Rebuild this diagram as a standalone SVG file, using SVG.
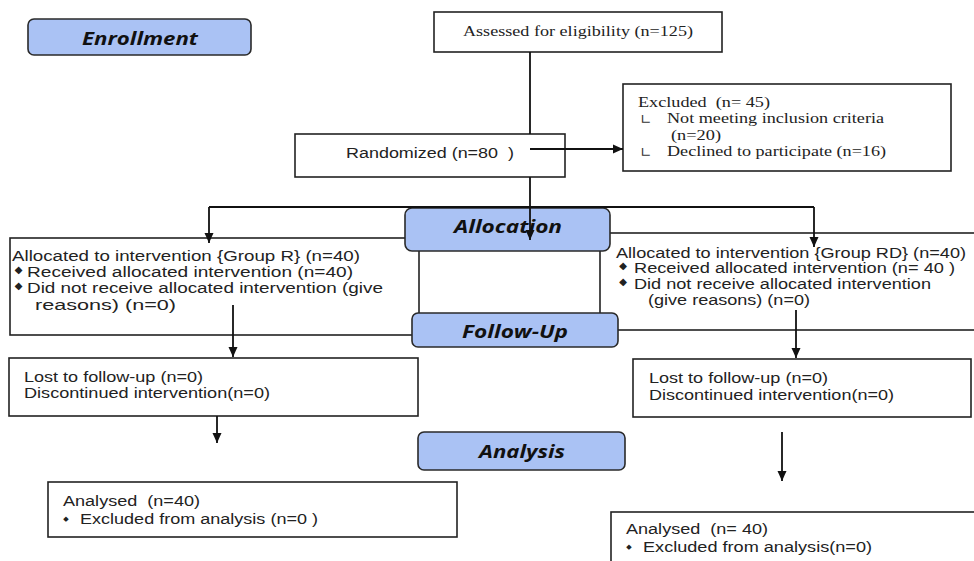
<svg xmlns="http://www.w3.org/2000/svg" width="974" height="561" viewBox="0 0 974 561">
<style>
.box{fill:#fff;stroke:#222;stroke-width:1.6}
.stage{fill:#aac2f4;stroke:#2a2a2a;stroke-width:1.6}
.hd{font-family:"Open Sans","Lato",sans-serif;font-weight:bold;font-style:italic;font-size:17px;fill:#111}
.ss{font-family:"Liberation Sans",Arial,sans-serif;font-size:14px;fill:#222;white-space:pre}
.sf{font-family:"Liberation Serif","Times New Roman",serif;font-size:14px;fill:#222;white-space:pre}
.dm{font-family:"DejaVu Sans",sans-serif;font-size:10px;fill:#222}
.ds{font-family:"DejaVu Sans",sans-serif;font-size:7px;fill:#222}
.lc{font-family:"DejaVu Sans",sans-serif;font-size:14px;fill:#333}
.cn{fill:none;stroke:#111;stroke-width:1.8}
</style>
<defs>
<marker id="ah" markerUnits="userSpaceOnUse" markerWidth="10" markerHeight="10" viewBox="0 0 10 10" refX="10" refY="5" orient="auto">
<path d="M0,0.5 L10,5 L0,9.5 Z" fill="#111"/>
</marker>
</defs>

<g id="group-r">
<rect class="box" x="10" y="238" width="409" height="97"/>
<text class="ss" x="12" y="261" textLength="348" lengthAdjust="spacingAndGlyphs">Allocated to intervention {Group R} (n=40)</text>
<text class="dm" x="18.5" y="273" text-anchor="middle">◆</text>
<text class="ss" x="27" y="277" textLength="326" lengthAdjust="spacingAndGlyphs">Received allocated intervention (n=40)</text>
<text class="dm" x="18.5" y="289" text-anchor="middle">◆</text>
<text class="ss" x="27" y="293" textLength="356" lengthAdjust="spacingAndGlyphs">Did not receive allocated intervention (give</text>
<text class="ss" x="35" y="310" textLength="141" lengthAdjust="spacingAndGlyphs">reasons) (n=0)</text>
</g>

<g id="group-rd">
<rect class="box" x="600" y="233" width="380" height="97"/>
<text class="ss" x="616" y="258" textLength="350" lengthAdjust="spacingAndGlyphs">Allocated to intervention {Group RD} (n=40)</text>
<text class="dm" x="623" y="269" text-anchor="middle">◆</text>
<text class="ss" x="634" y="273" textLength="321" lengthAdjust="spacingAndGlyphs">Received allocated intervention (n= 40 )</text>
<text class="dm" x="623" y="285" text-anchor="middle">◆</text>
<text class="ss" x="634" y="289" textLength="297" lengthAdjust="spacingAndGlyphs">Did not receive allocated intervention</text>
<text class="ss" x="648" y="305" textLength="162" lengthAdjust="spacingAndGlyphs">(give reasons) (n=0)</text>
</g>

<g id="enrollment">
<rect class="stage" x="28" y="19" width="223" height="36" rx="6"/>
<text class="hd" x="82" y="45" textLength="116" lengthAdjust="spacingAndGlyphs">Enrollment</text>
</g>

<g id="allocation">
<rect class="stage" x="405" y="208" width="205" height="43" rx="7"/>
<text class="hd" x="454" y="233" textLength="108" lengthAdjust="spacingAndGlyphs">Allocation</text>
</g>

<g id="follow-up">
<rect class="stage" x="412" y="313" width="206" height="34" rx="6"/>
<text class="hd" x="462" y="338" textLength="106" lengthAdjust="spacingAndGlyphs">Follow-Up</text>
</g>

<g id="analysis">
<rect class="stage" x="418" y="432" width="207" height="38" rx="6"/>
<text class="hd" x="479" y="458" textLength="86" lengthAdjust="spacingAndGlyphs">Analysis</text>
</g>

<g id="assessed">
<rect class="box" x="434" y="12" width="288" height="40"/>
<text class="sf" x="463" y="36" textLength="230" lengthAdjust="spacingAndGlyphs">Assessed for eligibility (n=125)</text>
</g>

<g id="randomized">
<rect class="box" x="295" y="134" width="270" height="43"/>
<text class="ss" x="346" y="158" textLength="168" lengthAdjust="spacingAndGlyphs">Randomized (n=80  )</text>
</g>

<g id="excluded">
<rect class="box" x="623" y="84" width="328" height="87"/>
<text class="sf" x="638" y="107" textLength="132" lengthAdjust="spacingAndGlyphs">Excluded  (n= 45)</text>
<text class="lc" x="640" y="124">∟</text>
<text class="sf" x="667" y="123" textLength="217" lengthAdjust="spacingAndGlyphs">Not meeting inclusion criteria</text>
<text class="sf" x="671" y="140" textLength="50" lengthAdjust="spacingAndGlyphs">(n=20)</text>
<text class="lc" x="640" y="157">∟</text>
<text class="sf" x="667" y="156" textLength="219" lengthAdjust="spacingAndGlyphs">Declined to participate (n=16)</text>
</g>

<g id="lost-r">
<rect class="box" x="9" y="358" width="409" height="58"/>
<text class="ss" x="24" y="382" textLength="179" lengthAdjust="spacingAndGlyphs">Lost to follow-up (n=0)</text>
<text class="ss" x="24" y="398" textLength="246" lengthAdjust="spacingAndGlyphs">Discontinued intervention(n=0)</text>
</g>

<g id="lost-rd">
<rect class="box" x="633" y="359" width="338" height="58"/>
<text class="ss" x="649" y="383" textLength="179" lengthAdjust="spacingAndGlyphs">Lost to follow-up (n=0)</text>
<text class="ss" x="649" y="400" textLength="245" lengthAdjust="spacingAndGlyphs">Discontinued intervention(n=0)</text>
</g>

<g id="analysed-r">
<rect class="box" x="48" y="482" width="409" height="55"/>
<text class="ss" x="63" y="506" textLength="137" lengthAdjust="spacingAndGlyphs">Analysed  (n=40)</text>
<text class="ds" x="66" y="521" text-anchor="middle">◆</text>
<text class="ss" x="80" y="524" textLength="238" lengthAdjust="spacingAndGlyphs">Excluded from analysis (n=0 )</text>
</g>

<g id="analysed-rd">
<rect class="box" x="611" y="512" width="380" height="60"/>
<text class="ss" x="626" y="534" textLength="142" lengthAdjust="spacingAndGlyphs">Analysed  (n= 40)</text>
<text class="ds" x="629" y="549" text-anchor="middle">◆</text>
<text class="ss" x="643" y="552" textLength="229" lengthAdjust="spacingAndGlyphs">Excluded from analysis(n=0)</text>
</g>

<g id="connectors">
<path class="cn" d="M530,52 V134"/>
<path class="cn" d="M530,177 V240" marker-end="url(#ah)"/>
<path class="cn" d="M530,149 H623" marker-end="url(#ah)"/>
<path class="cn" d="M209,207 H814"/>
<path class="cn" d="M209,207 V243" marker-end="url(#ah)"/>
<path class="cn" d="M814,207 V247" marker-end="url(#ah)"/>
<path class="cn" d="M233,305 V357" marker-end="url(#ah)"/>
<path class="cn" d="M217,416 V443" marker-end="url(#ah)"/>
<path class="cn" d="M796,310 V358" marker-end="url(#ah)"/>
<path class="cn" d="M782,432 V481" marker-end="url(#ah)"/>
</g>
</svg>
